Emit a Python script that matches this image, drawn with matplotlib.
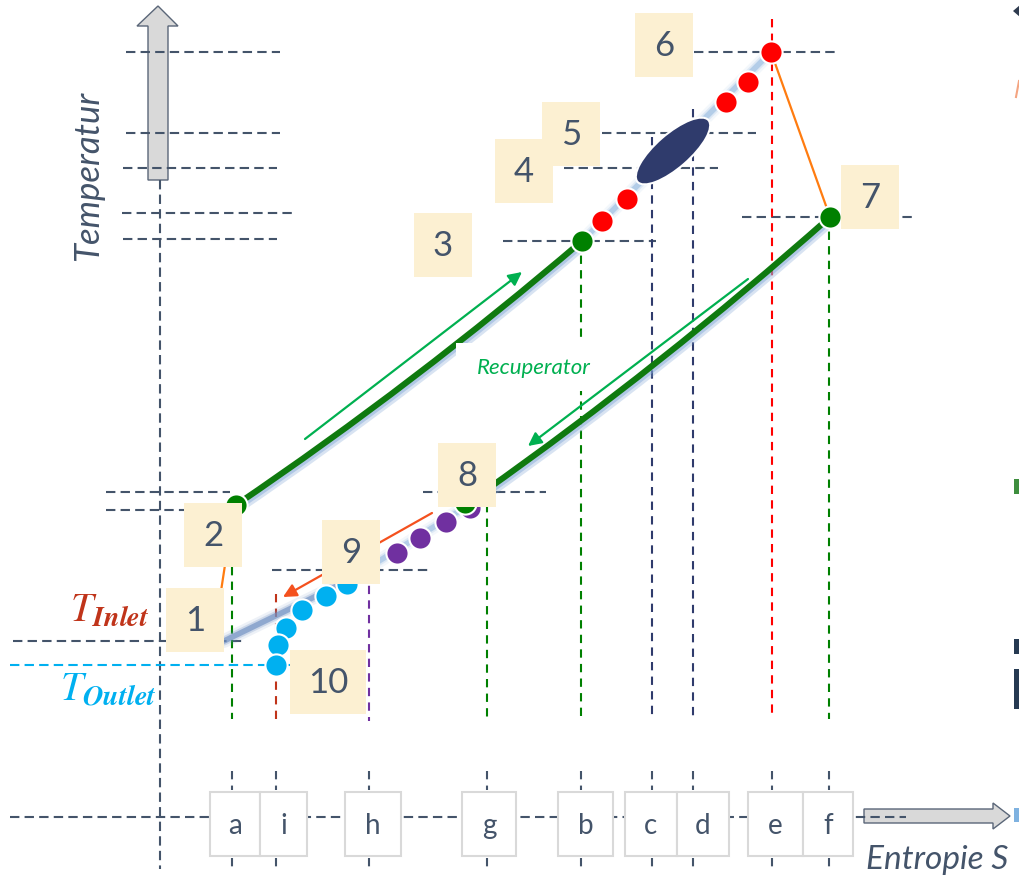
import matplotlib.pyplot as plt
from matplotlib.patches import Rectangle, Ellipse, Polygon, PathPatch
from matplotlib.path import Path
from matplotlib.transforms import offset_copy

plt.rcParams["font.family"] = ["Lato", "DejaVu Sans"]
plt.rcParams["mathtext.fontset"] = "stix"

SLATE = "#44546A"
NAVY = "#2F3B6C"
GREEN = "#008000"
RUST = "#C0341A"
PURPLE = "#7030A0"
CYAN = "#00B0F0"
CREAM = "#FCF0D2"

# diagram coordinates: S to the right, T drawn downward (screen layout)
# main state points
p1 = (224, 642)
p2 = (236, 506)
p3 = (582, 242)
p6 = (771, 53)
p7 = (830, 218)
p8 = (465, 504)

# intermediate points along heating, cooling and outlet legs
red_s = [602, 627, 726, 748]
red_t = [222, 200, 103, 83]
purple_s = [397, 420, 446, 470]
purple_t = [554, 539, 523, 509]
cyan_s = [347, 326, 302, 286, 278, 276]
cyan_t = [585, 597, 611, 629, 646, 666]

# numbered state labels
state_labels = ["1", "2", "3", "4", "5", "6", "7", "8", "9", "10"]
state_box_s = [195, 213, 443, 524, 571, 664, 870, 467, 351, 328]
state_box_t = [621, 536, 246, 172, 135, 46, 198, 476, 553, 683]
state_box_w = [58, 58, 58, 58, 58, 58, 58, 58, 58, 76]

# entropy marks on the S axis
s_marks = ["a", "i", "h", "g", "b", "c", "d", "e", "f"]
s_mark_x = [232, 276, 369, 487, 581, 652, 693, 772, 829]
s_mark_top = [568, 595, 543, 505, 242, 138, 110, 20, 218]
s_mark_bottom = [720, 725, 722, 720, 720, 720, 720, 720, 720]
s_mark_color = [GREEN, RUST, PURPLE, GREEN, GREEN, NAVY, NAVY, "#FF0000", GREEN]
s_box_left = [210, 260, 345, 462, 558, 625, 677, 748, 803]
s_box_width = [50, 47, 56, 54, 55, 52, 52, 55, 50]

# temperature levels (y, x start, x end)
t_levels_left = [(53, 126, 280), (134, 126, 280), (169, 123, 277), (214, 122, 296),
                 (240, 123, 277), (493, 106, 230), (511, 106, 250), (642, 13, 243)]
t_levels_right = [(53, 694, 837), (134, 602, 756), (169, 564, 718), (218, 742, 915),
                  (242, 503, 656), (493, 423, 546), (571, 272, 429)]
t_outlet = (666, 10, 290)

fig = plt.figure(figsize=(10.2, 8.79), dpi=100)
ax = fig.add_axes([0, 0, 1, 1])
ax.set_xlim(0, 1020)
ax.set_ylim(879, 0)
ax.axis("off")


def dashed(xs, ys, color, lw=1.5, dash=(4.5, 2.5), z=2):
    ax.plot(xs, ys, color=color, lw=lw, ls=(0, dash), zorder=z)


def glow(xs, ys, color, z=3):
    for w, a in zip((10, 6.5, 4), (0.12, 0.25, 0.65)):
        ax.plot(xs, ys, color=color, lw=w, alpha=a, solid_capstyle="round", zorder=z)


def curve(a, c, b, shift=None, **kw):
    path = Path([a, c, b], [Path.MOVETO, Path.CURVE3, Path.CURVE3])
    tr = ax.transData if shift is None else offset_copy(ax.transData, fig, x=shift[0], y=shift[1], units="dots")
    ax.add_patch(PathPatch(path, fill=False, transform=tr, capstyle="round", **kw))


# axes arrows
ax.add_patch(Polygon([(148, 181), (148, 27), (137, 27), (158, 7), (178, 27), (168, 27), (168, 181)],
                     closed=True, fc="#D9D9D9", ec="#5A6678", lw=1, zorder=1))
ax.add_patch(Polygon([(864, 810), (993, 810), (993, 804), (1010, 817), (993, 830), (993, 824), (864, 824)],
                     closed=True, fc="#D9D9D9", ec="#5A6678", lw=1, zorder=1))
dashed([160, 160], [181, 870], SLATE)
dashed([10, 906], [818, 818], SLATE)

for y, x0, x1 in t_levels_left + t_levels_right:
    dashed([x0, x1], [y, y], SLATE)
dashed([t_outlet[1], t_outlet[2]], [t_outlet[0]] * 2, CYAN)

for x, top, bot, col in zip(s_mark_x, s_mark_top, s_mark_bottom, s_mark_color):
    dashed([x, x], [top, bot], col, dash=(4, 3))
    dashed([x, x], [772, 791], SLATE, dash=(4, 3))
    dashed([x, x], [859, 868], SLATE, dash=(4, 3))

# glow lines under the process points
glow([p3[0], p6[0]], [p3[1], p6[1]], "#9DBFE3")
glow([480, 347], [499, 582], "#9DBFE3")
glow([347, p1[0]], [582, p1[1]], "#6F8FC2")

# recuperator streams (thick green with blue shadow)
cold_ctrl = (416, 384)
hot_ctrl = (662, 367)
for a, c, b in [(p2, cold_ctrl, p3), (p7, hot_ctrl, (482, 494))]:
    curve(a, c, b, shift=(1.5, -3), ec="#7FA5D6", lw=8, alpha=0.3, zorder=3)
    curve(a, c, b, shift=(1, -2), ec="#7FA5D6", lw=5.5, alpha=0.45, zorder=3)
    curve(a, c, b, ec="#0F7A0F", lw=4.4, zorder=4)

# turbine expansion and compression lines
ax.plot([p6[0], p7[0]], [p6[1], p7[1]], color="#FF7C10", lw=1.6, zorder=3)
ax.plot([216, 234], [625, 507], color="#FF7C10", lw=1.6, zorder=3)

# white label field for the recuperator
ax.add_patch(Rectangle((456, 344), 146, 48, fc="white", ec="none", zorder=4.5))
ax.text(534, 368, "Recuperator", color="#00B050", fontsize=16, style="italic",
        ha="center", va="center", zorder=5)

# flow arrows
arrow_kw = dict(arrowstyle="-|>", lw=1.6, mutation_scale=20, shrinkA=0, shrinkB=0)
ax.annotate("", xy=(522, 273), xytext=(305, 440), arrowprops=dict(color="#00B050", **arrow_kw), zorder=5)
ax.annotate("", xy=(528, 447), xytext=(748, 280), arrowprops=dict(color="#00B050", **arrow_kw), zorder=5)
ax.annotate("", xy=(283, 598), xytext=(432, 514), arrowprops=dict(color="#F4511E", **arrow_kw), zorder=5)

# process points
mk = dict(ls="none", marker="o", ms=16, mec="white", mew=1.5, zorder=6)
ax.plot(red_s, red_t, color="#FF0000", **mk)
ax.plot(purple_s, purple_t, color=PURPLE, **mk)
ax.plot(cyan_s, cyan_t, color=CYAN, **mk)
ax.plot([p2[0], p3[0], p7[0], p8[0]], [p2[1], p3[1], p7[1], p8[1]], color=GREEN, **mk)
ax.plot([p6[0]], [p6[1]], color="#FF0000", **mk)
ax.add_patch(Ellipse((673, 152), 94, 34, angle=-41, fc=NAVY, ec="white", lw=1.5, zorder=6))

# state number boxes
for lab, s, t, w in zip(state_labels, state_box_s, state_box_t, state_box_w):
    ax.add_patch(Rectangle((s - w / 2, t - 32), w, 64, fc=CREAM, ec="none", zorder=7))
    ax.text(s, t, lab, color=SLATE, fontsize=25, ha="center", va="center", zorder=8)

# entropy mark boxes
for lab, left, w in zip(s_marks, s_box_left, s_box_width):
    ax.add_patch(Rectangle((left, 793), w, 64, fc="white", ec="#D9D9D9", lw=1.5, zorder=7))
    ax.text(left + w / 2, 826, lab, color=SLATE, fontsize=20, ha="center", va="center", zorder=8)

# axis titles and limits
ax.text(88, 176, "Temperatur", color=SLATE, fontsize=25, style="italic", rotation=90,
        ha="center", va="center")
ax.text(866, 860, "Entropie S", color=SLATE, fontsize=24, style="italic", ha="left", va="center")
ax.text(110, 610, r"$T_{\mathbfit{Inlet}}$", color=RUST, fontsize=29, ha="center", va="center")
ax.text(108, 690, r"$T_{\mathbfit{Outlet}}$", color=CYAN, fontsize=29, ha="center", va="center")

# clipped legend swatches at the right margin
ax.add_patch(Polygon([(1013, 12), (1020, 6), (1020, 18)], closed=True, fc="#2F3B4F", ec="none"))
ax.plot([1016, 1019], [98, 82], color="#F4A582", lw=1.5)
ax.add_patch(Rectangle((1014, 480), 6, 15, fc="#3E8E3E", ec="none"))
ax.add_patch(Rectangle((1014, 640), 6, 15, fc="#263A52", ec="none"))
ax.add_patch(Rectangle((1014, 670), 6, 40, fc="#263A52", ec="none"))
ax.add_patch(Rectangle((1014, 809), 6, 14, fc="#7FB2E0", ec="none"))

fig.savefig("out.png", dpi=100)
